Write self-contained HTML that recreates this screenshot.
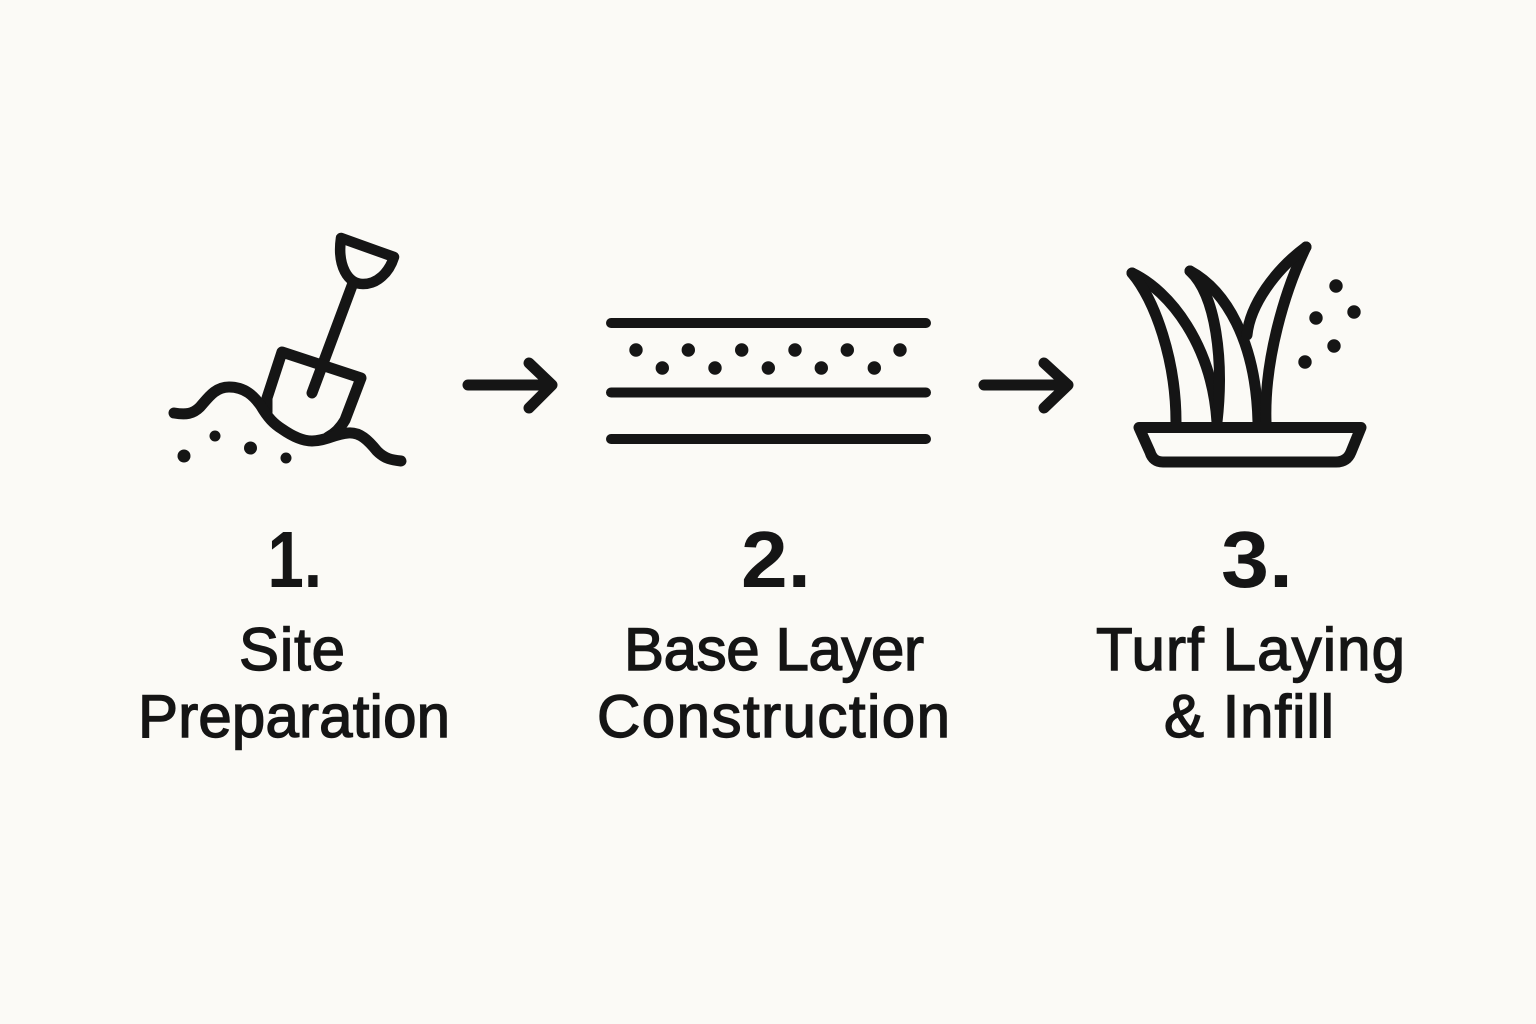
<!DOCTYPE html>
<html>
<head>
<meta charset="utf-8">
<style>
html,body{margin:0;padding:0;background:#fbfaf6;}
svg{display:block;}
text{font-family:"Liberation Sans",sans-serif;fill:#151515;}
.t{font-size:60px;stroke:#151515;stroke-width:1.4px;}
.n{font-size:80px;font-weight:bold;}
</style>
</head>
<body>
<svg width="1536" height="1024" viewBox="0 0 1536 1024" xmlns="http://www.w3.org/2000/svg">
<rect width="1536" height="1024" fill="#fbfaf6"/>
<g fill="none" stroke="#151515" stroke-width="11" stroke-linecap="round" stroke-linejoin="round">
  <!-- shovel -->
  <path d="M341 238 L394 257 C389 273 377 284 363 284 C348 284 337 266 341 238 Z" stroke-width="10.500"/>
  <path d="M353 283 L312 393"/>
  <path d="M267 412 L267 398 L282 352 L361 378 L345 420 Q338 432 328 437"/>
  <path d="M174 413 C186 415 193 414 200 407 C208 398 215 387 229 387 C245 387 254 396 261 406 C268 418 274 424 282 429 C292 436 302 441 312 441 C325 441 335 434 348 433 C360 432 368 440 377 451 C385 459 392 460 401 461"/>
  <!-- grass -->
  <path d="M1132 273 C1170 291 1212 345 1217 422"/>
  <path d="M1132 273 C1155 300 1176 360 1176 422"/>
  <path d="M1190 271 C1225 290 1256 340 1258 422"/>
  <path d="M1190 271 C1216 295 1224 360 1217 422"/>
  <path d="M1306 247 C1285 290 1264 360 1266 422"/>
  <path d="M1306 247 C1275 270 1250 305 1247 335"/>
  <!-- arrows -->
  <path d="M468 385 H552 M529 363 L552 385 L529 408"/>
  <path d="M984 385 H1068 M1044 363 L1068 385 L1044 408"/>
  <!-- tray -->
  <path d="M1139 427.500 H1361 L1351 452 Q1347 462 1336 462 H1163 Q1153 462 1150 452 Z"/>
</g>
<g fill="none" stroke="#151515" stroke-width="10" stroke-linecap="round">
  <!-- layers -->
  <path d="M611 323 H926 M611 392.500 H926 M611 439 H926"/>
</g>
<g fill="#151515">
  <circle cx="184" cy="456" r="6.500"/>
  <circle cx="215" cy="436" r="5.500"/>
  <circle cx="250.500" cy="448" r="6.500"/>
  <circle cx="286" cy="458" r="5.500"/>
  <circle cx="636" cy="350" r="6.700"/>
  <circle cx="688.300" cy="350" r="6.700"/>
  <circle cx="741.700" cy="350" r="6.700"/>
  <circle cx="795" cy="350" r="6.700"/>
  <circle cx="847.300" cy="350" r="6.700"/>
  <circle cx="900" cy="350" r="6.700"/>
  <circle cx="662.300" cy="368" r="6.700"/>
  <circle cx="715" cy="368" r="6.700"/>
  <circle cx="768.300" cy="368" r="6.700"/>
  <circle cx="821.300" cy="368" r="6.700"/>
  <circle cx="874.300" cy="368" r="6.700"/>
  <circle cx="1336" cy="286" r="6.700"/>
  <circle cx="1354" cy="312" r="6.700"/>
  <circle cx="1316" cy="318" r="6.700"/>
  <circle cx="1334" cy="346" r="6.700"/>
  <circle cx="1305" cy="362" r="6.700"/>
</g>
<text class="n" x="267.500" y="587" textLength="54.500" lengthAdjust="spacingAndGlyphs">1.</text>
<text class="n" x="741" y="587" textLength="70" lengthAdjust="spacingAndGlyphs">2.</text>
<text class="n" x="1221" y="587" textLength="72" lengthAdjust="spacingAndGlyphs">3.</text>
<text class="t" x="239" y="670" textLength="106" lengthAdjust="spacing">Site</text>
<text class="t" x="138" y="737" textLength="312" lengthAdjust="spacing">Preparation</text>
<text class="t" x="624" y="670" textLength="300" lengthAdjust="spacing">Base Layer</text>
<text class="t" x="597" y="737" textLength="353" lengthAdjust="spacing">Construction</text>
<text class="t" x="1096" y="670" textLength="309" lengthAdjust="spacing">Turf Laying</text>
<text class="t" x="1164" y="737" textLength="170" lengthAdjust="spacing">&amp; Infill</text>
</svg>
</body>
</html>
